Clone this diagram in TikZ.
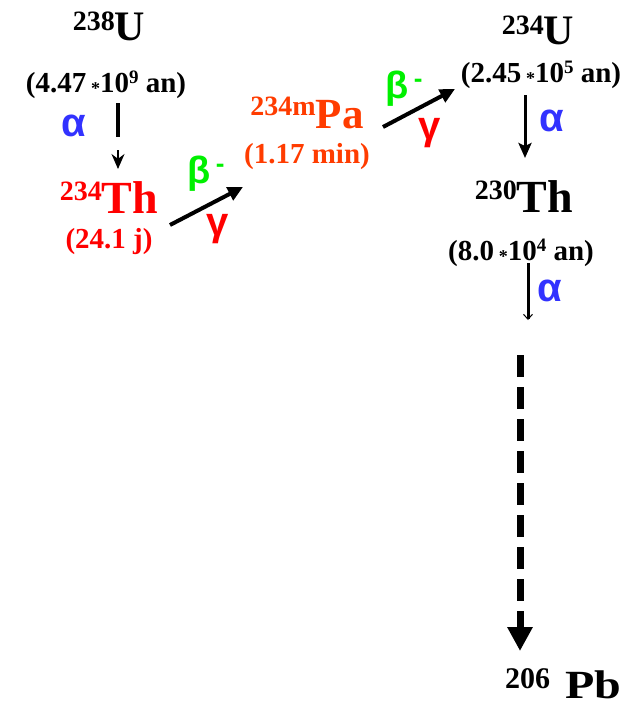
\documentclass[tikz,border=0pt]{standalone}
\usepackage{fontspec}
\setmainfont{Liberation Serif}
\newfontfamily\grk{Liberation Sans}
\usetikzlibrary{arrows.meta}
\definecolor{thred}{RGB}{255,0,0}
\definecolor{paor}{RGB}{255,60,0}
\definecolor{bgreen}{RGB}{0,240,0}
\definecolor{ablue}{RGB}{50,50,255}
\newcommand{\fs}[1]{\fontsize{#1}{#1}\selectfont}
\newcommand{\iso}[4]{{\raisebox{#3pt}{\fs{28}#1}}{\fs{#4}#2}}
\newcommand{\hl}[3]{(#1\,\raisebox{-2pt}{\fs{18}*}10\raisebox{9pt}{\fs{19}#2} #3)}
\newcommand{\bminus}{β\hspace{5pt}\raisebox{11pt}{\fs{26}-}}
\tikzset{
  iso/.style={anchor=base,inner sep=0pt,font=\bfseries},
  half/.style={anchor=base,inner sep=0pt,font=\bfseries\fs{29}},
  alab/.style={inner sep=0pt,text=ablue,font=\grk\bfseries\fs{40}},
  blab/.style={inner sep=0pt,text=bgreen,font=\grk\bfseries\fs{38}},
  glab/.style={inner sep=0pt,text=thred,font=\grk\bfseries\fs{40}},
  thick arrow/.style={line width=4pt,-{Triangle[length=15pt,width=14pt]}},
}
\begin{document}
\begin{tikzpicture}[x=1pt,y=-1pt]
\useasboundingbox (0,0) rectangle (636,710);
% isotopes
\node[iso] (u238) at (109,40) {\iso{238}{U}{10}{42}};
\node[half] (h1) at (106,92) {\hl{4.47}{9}{an}};
\node[iso,text=thred] (th234) at (109,213) {\iso{234}{Th}{13}{46}};
\node[half,text=thred] (h2) at (109,248) {(24.1 j)};
\node[iso,text=paor] (pa) at (307,128) {\iso{234m}{Pa}{13}{43}};
\node[half,text=paor] (h3) at (307,163) {(1.17 min)};
\node[iso] (u234) at (538,44) {\iso{234}{U}{10}{42}};
\node[half] (h4) at (541,82) {\hl{2.45}{5}{an}};
\node[iso] (th230) at (524,212) {\iso{230}{Th}{13}{46}};
\node[half] (h5) at (521,260) {\hl{8.0}{4}{an}};
\node[iso,anchor=base west] (pb) at (505,698) {{\raisebox{10pt}{\fs{30}206}}\hspace{15pt}\scalebox{1.2}[1]{\fs{40}Pb}};
% labels
\node[alab] (a1) at (74,126) {α};
\node[blab] (b1) at (206,174) {\bminus};
\node[glab] (g1) at (218,229) {γ};
\node[blab] (b2) at (404,89) {\bminus};
\node[glab] (g2) at (430,133) {γ};
\node[alab] (a2) at (552,121) {α};
\node[alab] (a3) at (550,291) {α};
% connector coordinates
\coordinate (c1a) at (118,103);
\coordinate (c1b) at (118,137);
\coordinate (c1c) at (118,150);
\coordinate (c1d) at (118,169);
\coordinate (c2a) at (170,225);
\coordinate (c2b) at (243,187);
\coordinate (c3a) at (383,127);
\coordinate (c3b) at (455,89);
\coordinate (c4a) at (525,95);
\coordinate (c4b) at (525,158);
\coordinate (c5a) at (528,263);
\coordinate (c5b) at (528,320);
\coordinate (c6a) at (520,355);
\coordinate (c6b) at (520,651);
% connectors
\draw[line width=4pt] (c1a) -- (c1b);
\draw[line width=1.5pt,-{Stealth[length=15pt,width=13pt]}] (c1c) -- (c1d);
\draw[thick arrow] (c2a) -- (c2b);
\draw[thick arrow] (c3a) -- (c3b);
\draw[line width=3pt,-{Stealth[length=15pt,width=13pt,inset=3pt]}] (c4a) -- (c4b);
\draw[line width=3pt,-{Straight Barb[length=5pt,width=9pt,line width=1pt]}] (c5a) -- (c5b);
\draw[line width=7pt,dash pattern=on 22pt off 10pt,-{Triangle[length=24pt,width=24pt]}] (c6a) -- (c6b);
\end{tikzpicture}
\end{document}
